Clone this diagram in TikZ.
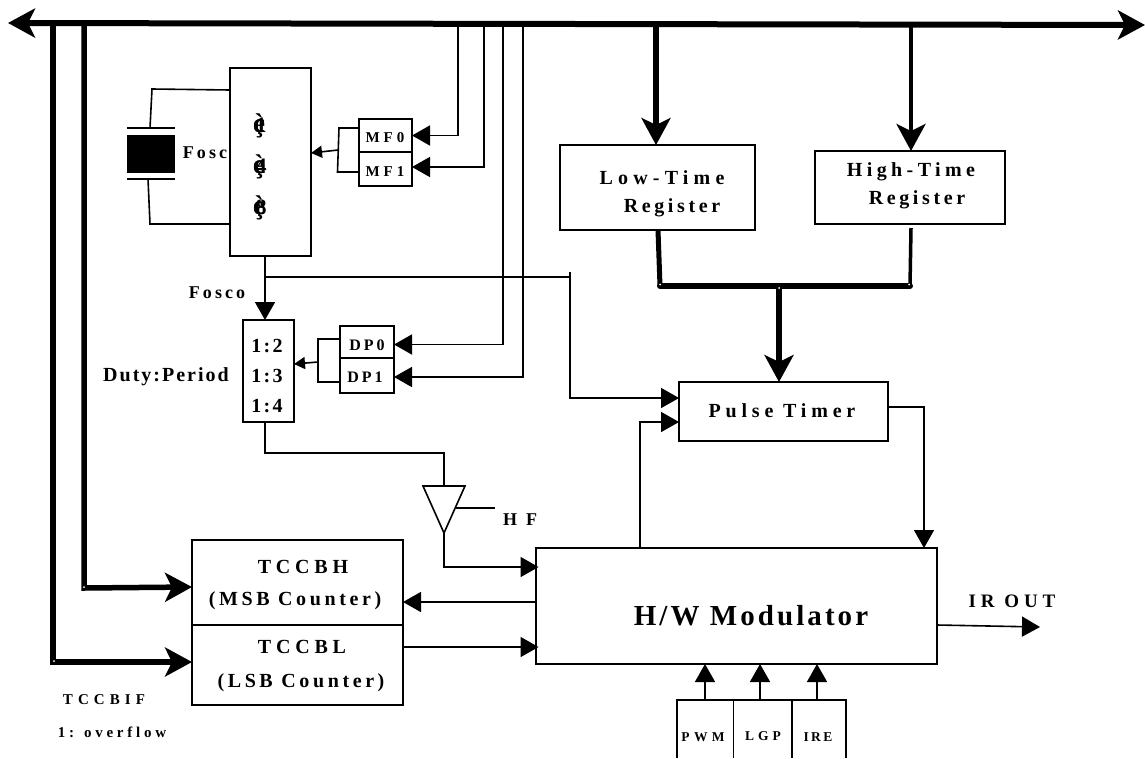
\documentclass[tikz,border=0pt]{standalone}
\usepackage{fontspec}
\setmainfont{Liberation Serif}
\usetikzlibrary{arrows.meta}
\newcommand{\ltxt}[3]{\fontsize{#1}{#1}\selectfont\bfseries\addfontfeature{LetterSpace=#2}#3}
\newcommand{\boxn}[5]{%
  \pgfmathsetmacro\myw{#4-#2}\pgfmathsetmacro\myh{#5-#3}%
  \node[blk,minimum width=\myw pt,minimum height=\myh pt] (#1) at ({(#2+#4)/2},{(#3+#5)/2}) {};}
\newcommand{\ovs}[1]{\makebox[0pt]{\fontsize{27}{27}\selectfont è}\makebox[0pt]{\fontsize{27}{27}\selectfont ç}\makebox[0pt]{\hspace{4pt}#1}}
\tikzset{
  blk/.style={draw=black,line width=1.6pt,fill=white,inner sep=0pt,outer sep=0pt},
  lbl/.style={inner sep=0pt,outer sep=0pt,text=black,anchor=center},
  wire/.style={draw=black,line width=1.6pt,line join=miter},
  tri/.style={wire,-{Triangle[length=18pt,width=20pt]}},
  smalltri/.style={wire,-{Triangle[length=11pt,width=12pt]}},
  busA/.style={draw=black,line width=5.5pt,line join=miter},
  busarrow/.style={busA,-{Stealth[length=27pt,width=29pt,inset=7pt]}},
  handle/.style={circle,fill=white,inner sep=0pt,minimum size=2pt,outer sep=0pt}
}
\begin{document}
\begin{tikzpicture}[x=1pt,y=-1pt]
\useasboundingbox (0,0) rectangle (1145,758);
\fill[white] (0,0) rectangle (1145,758);
% free ends on the bus
\coordinate (busL) at (8,23);
\coordinate (busR) at (1145,25);
\coordinate (tA) at (53,23);
\coordinate (tB) at (84,23);
\coordinate (tM0) at (458,23);
\coordinate (tM1) at (484,23);
\coordinate (tD0) at (503,24);
\coordinate (tD1) at (523,24);
\coordinate (tL) at (656,24);
\coordinate (tH) at (911,24);
% boxes
\boxn{osc}{230}{68}{311}{256}
\boxn{mfz}{359}{119}{412}{152}
\boxn{mfo}{359}{152}{412}{186}
\boxn{duty}{243}{320}{294}{422}
\boxn{dpz}{340}{326}{394}{358}
\boxn{dpo}{340}{358}{394}{393}
\boxn{low}{560}{145}{755}{230}
\boxn{high}{815}{151}{1005}{224}
\boxn{timer}{679}{382}{888}{441}
\boxn{modu}{536}{548}{937}{664}
\boxn{tccbh}{192}{540}{403}{625}
\boxn{tccbl}{192}{625}{403}{705}
% crystal
\node[draw=black,fill=black,inner sep=0pt,minimum width=47pt,minimum height=37pt] (xtal) at (150.5,153.5) {};
\coordinate (plateTL) at (127,128); \coordinate (plateTR) at (175,128);
\coordinate (plateBL) at (127,179); \coordinate (plateBR) at (175,179);
\draw[wire] (plateTL) -- (plateTR);
\draw[wire] (plateBL) -- (plateBR);
\coordinate (xT) at (150,128); \coordinate (xB) at (148,179);
\draw[wire] (xT) -- (152,89) -- (osc.west |- 0,90);
\draw[wire] (xB) -- (150,224) -- (osc.west |- 0,224);
% bus
\draw[busA,line width=6pt,{Stealth[length=27pt,width=29pt,inset=7pt]}-{Stealth[length=27pt,width=29pt,inset=7pt]}] (busL) -- (busR);
% thick taps
\draw[busarrow] (tA) -- (53,662) -- (tccbl.west |- 0,662);
\draw[busarrow] (tB) -- (84,588) -- (tccbh.west |- 0,587);
\draw[busarrow] (tL) -- (low.north -| tL);
\draw[busarrow,line width=4pt] (tH) -- (tH |- high.north);
% bus to MF and DP
\draw[tri,line width=1.6pt] (tM0) -- (tM0 |- mfz.east) -- (mfz.east);
\draw[tri,line width=1.6pt] (tM1) -- (484,167) -- (mfo.east |- 0,167);
\draw[tri,line width=1.6pt] (tD0) -- (503,344.5) -- (dpz.east |- 0,344.5);
\draw[tri,line width=1.6pt] (tD1) -- (523,377) -- (dpo.east |- 0,377);
% select brackets
\coordinate (mfj) at (338,150);
\draw[wire] (mfz.west |- 0,128) -- (339,128) -- (337.5,172) -- (mfo.west |- 0,172);
\draw[smalltri] (mfj) -- (osc.east |- 0,153);
\coordinate (dpj) at (318,362);
\draw[wire] (dpz.west |- 0,339) -- (318,339) -- (318,382) -- (dpo.west |- 0,382);
\draw[smalltri] (dpj) -- (duty.east |- 0,364);
% Fosco
\draw[tri] (osc.south -| 265,0) -- (duty.north -| 265,0);
\coordinate (foscoT) at (265,277);
\coordinate (fT) at (570,272);
\draw[wire] (foscoT) -- (570,277);
\draw[wire] (fT) -- (570,398);
\draw[tri] (569,398) -- (timer.west |- 0,398);
% Duty to buffer
\node[inner sep=0pt,outer sep=0pt] (buf) at (444,486) {};
\coordinate (bufL) at (423,486); \coordinate (bufR) at (465,486); \coordinate (bufA) at (444,533);
\draw[wire,line join=miter] (bufL) -- (bufR) -- (bufA) -- cycle;
\coordinate (bufS) at (456,508); \coordinate (bufE) at (495,508);
\draw[wire] (bufS) -- (bufE);
\draw[wire] (duty.south -| 265,0) -- (265,453) -- (444,453) -- (buf.north);
\draw[tri] (bufA) -- (444,567) -- ([xshift=2.5pt]modu.west |- 0,567);
% registers to timer
\coordinate (jL) at (660,286); \coordinate (jM) at (779,286); \coordinate (jR) at (910,286);
\draw[busA,line width=5pt] (low.south -| 658,0) -- (jL);
\draw[busA,line width=3.5pt] (911,228) -- (jR);
\draw[busA,line width=6pt,line cap=round] (jL) -- (jR);
\draw[busarrow] (jM) -- (jM |- timer.north);
% timer and modulator
\draw[tri] (modu.north -| 640,0) -- (640,422) -- (timer.west |- 0,422);
\draw[tri] (timer.east |- 0,407) -- (924,407) -- (924,548);
% modulator and counters
\draw[tri] (modu.west |- 0,602) -- (tccbh.east |- 0,602);
\draw[tri] (tccbl.east |- 0,647) -- ([xshift=2.5pt]modu.west |- 0,647);
% IR OUT
\coordinate (irout) at (1040,627);
\draw[tri] (modu.east |- 0,625) -- (irout);
% bottom boxes (cut by the lower edge)
\coordinate (pa) at (677,700); \coordinate (pb) at (733.5,700); \coordinate (pc) at (792,700); \coordinate (pd) at (846,700);
\draw[wire] (677,758) -- (pa) -- (pd) -- (846,758);
\draw[wire] (pb) -- (733.5,758);
\draw[wire] (pc) -- (792,758);
\coordinate (qa) at (705,700); \coordinate (qb) at (760,700); \coordinate (qc) at (817,700);
\draw[tri] (qa) -- (705,664);
\draw[tri] (qb) -- (760,664);
\draw[tri] (qc) -- (817,664);
% junction marks
\node[handle] (h1) at (84,587) {};
\node[handle] (h2) at (54,661) {};
\node[handle] (h3) at (660,284.5) {};
\node[handle] (h4) at (779,288) {};
\node[handle] (h5) at (909,284.5) {};
% labels
\node[lbl] (lFosc) at (205,153) {\ltxt{18}{17}{Fosc}};
\node[lbl] (o1) at (259,126) {\ltxt{22}{0}{\ovs{1}}};
\node[lbl] (o4) at (259,167) {\ltxt{22}{0}{\ovs{4}}};
\node[lbl] (o8) at (259,208) {\ltxt{22}{0}{\ovs{8}}};
\node[lbl] (lm0) at (385,138) {\ltxt{15}{27}{MF0}};
\node[lbl] (lm1) at (385,172) {\ltxt{15}{27}{MF1}};
\node[lbl] (lFosco) at (217,293) {\ltxt{18}{17}{Fosco}};
\node[lbl] (lduty) at (166,377) {\ltxt{20}{10}{Duty:Period}};
\node[lbl] (l12) at (267,346) {\ltxt{20}{12}{1:2}};
\node[lbl] (l13) at (267,376) {\ltxt{20}{12}{1:3}};
\node[lbl] (l14) at (267,406) {\ltxt{20}{12}{1:4}};
\node[lbl] (ld0) at (367,345) {\ltxt{16}{19}{DP0}};
\node[lbl] (ld1) at (365,377) {\ltxt{16}{19}{DP1}};
\node[lbl] (lLow) at (662,178) {\ltxt{20}{26}{Low-Time}};
\node[lbl] (lLowb) at (672,208) {\ltxt{20}{18}{Register}};
\node[lbl] (lHigh) at (911,172) {\ltxt{20}{22}{High-Time}};
\node[lbl] (lHighb) at (917,200) {\ltxt{20}{18}{Register}};
\node[lbl] (lTimer) at (782,411) {\ltxt{20}{24}{Pulse Timer}};
\node[lbl] (lHF) at (520,520) {\ltxt{18}{50}{HF}};
\node[lbl] (lMod) at (751,616) {\ltxt{29}{10.6}{H/W Modulator}};
\node[lbl] (lIR) at (1012,601) {\ltxt{19}{26}{IR OUT}};
\node[lbl] (lh1) at (303,567) {\ltxt{20}{24}{TCCBH}};
\node[lbl] (lh2) at (295,601) {\ltxt{20}{18}{(MSB Counter)}};
\node[lbl] (ll1) at (302,647) {\ltxt{20}{24}{TCCBL}};
\node[lbl] (ll2) at (301,683) {\ltxt{20}{18}{(LSB Counter)}};
\node[lbl] (lif) at (104,700) {\ltxt{15}{34}{TCCBIF}};
\node[lbl] (lov) at (112,732) {\ltxt{15}{25}{1: overflow}};
\node[lbl] (lp) at (703,737) {\ltxt{13.5}{33}{PWM}};
\node[lbl] (lg) at (763,736) {\ltxt{13.5}{30}{LGP}};
\node[lbl] (li) at (818,737) {\ltxt{13.5}{18}{IRE}};
\end{tikzpicture}
\end{document}
